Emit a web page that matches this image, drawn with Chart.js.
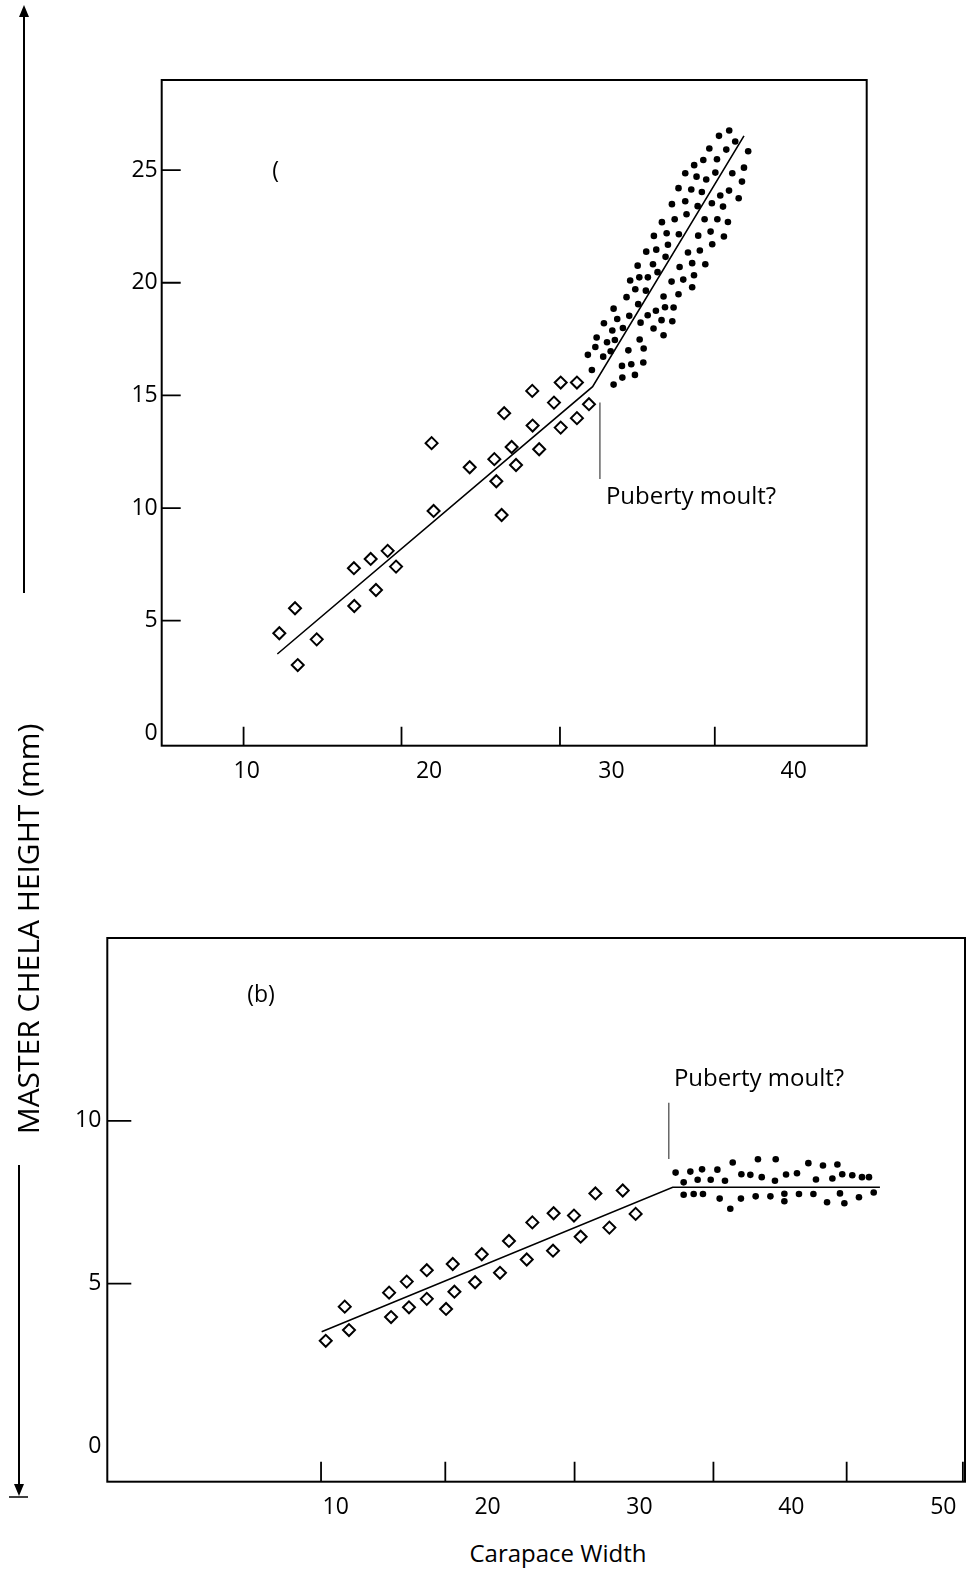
<!DOCTYPE html>
<html>
<head>
<meta charset="utf-8">
<script src="https://cdn.jsdelivr.net/npm/chart.js@4.4.1/dist/chart.umd.min.js"></script>
<style>
  body { margin:0; background:#fff; width:968px; height:1570px; position:relative; overflow:hidden; font-family:'Open Sans', sans-serif; color:#000; }
  #chartA { position:absolute; left:100px; top:60px; }
  #chartB { position:absolute; left:50px; top:920px; }
  #yTitle { position:absolute; left:27px; top:929px; transform:translate(-50%,-50%) rotate(-90deg); white-space:nowrap; font-size:30px; }
  #xTitle { position:absolute; left:558px; top:1552px; transform:translate(-50%,-50%); white-space:nowrap; font-size:24px; }
  #arrows { position:absolute; left:0; top:0; }
</style>
</head>
<body>
<canvas id="chartA" width="800" height="740"></canvas>
<canvas id="chartB" width="918" height="600"></canvas>
<svg id="arrows" width="60" height="1570">
  <line x1="24" y1="593" x2="24" y2="14" stroke="#000" stroke-width="2"/>
  <polygon points="24,5 19,17 29,17" fill="#000"/>
  <line x1="19" y1="1165" x2="19" y2="1486" stroke="#000" stroke-width="2"/>
  <polygon points="19,1496 14,1484 24,1484" fill="#000"/>
  <line x1="9" y1="1497" x2="28" y2="1497" stroke="#000" stroke-width="1.5"/>
</svg>
<div id="yTitle">MASTER CHELA HEIGHT (mm)</div>
<div id="xTitle">Carapace Width</div>
<script>
// ---- panel (a) ----
const juvAx = [11.79,12.65,12.80,13.84,15.88,15.90,16.80,17.09,17.73,18.19,20.14,20.25,22.23,23.58,23.69,23.98,24.12,24.53,24.77,25.66,25.68,26.04,26.85,27.22,27.22,28.11,28.11,28.77];
const juvAy = [4.44,5.55,3.03,4.17,7.33,5.65,7.74,6.36,8.10,7.40,12.88,9.87,11.81,12.17,11.19,9.69,14.21,12.71,11.91,15.20,13.66,12.61,14.68,15.57,13.57,15.57,13.99,14.61];
const adultAx = [36.46,35.90,36.79,35.37,36.30,37.50,35.04,35.79,34.54,37.27,
  34.05,34.67,35.70,36.63,35.20,37.16,33.68,34.38,34.96,36.45,
  35.97,33.32,34.05,34.73,35.51,36.12,36.98,33.47,34.12,35.11,
  35.81,36.39,32.77,33.03,32.33,33.70,34.76,35.44,36.17,33.10,
  31.91,32.46,34.20,34.85,35.53,32.97,32.28,31.44,33.74,34.43,
  35.15,32.53,31.03,31.53,32.00,33.30,33.94,34.53,31.31,31.89,
  33.68,34.43,30.83,31.47,32.86,30.12,30.32,29.59,30.98,31.60,
  31.99,32.44,32.94,33.41,33.34,32.75,30.05,30.63,29.19,29.76,
  30.19,32.31,32.86,31.55,29.12,29.55,29.96,28.71,30.93,31.77,
  28.93,30.58,31.09,31.75,30.60,31.29,30.12];
const adultAy = [26.76,26.52,26.27,25.96,25.91,25.84,25.45,25.48,25.22,25.11,
  24.86,24.71,24.89,24.86,24.58,24.49,24.20,24.14,24.03,24.09,
  23.87,23.49,23.62,23.40,23.53,23.38,23.75,22.82,23.04,22.82,
  22.82,22.70,22.69,22.20,22.08,22.15,22.09,22.27,22.05,21.69,
  21.38,21.47,21.34,21.43,21.71,21.15,20.82,20.76,20.70,20.87,
  20.82,20.47,20.10,20.24,20.24,20.05,20.14,20.33,19.71,19.65,
  19.49,19.80,19.36,19.05,19.39,18.85,18.39,18.20,18.53,18.23,
  18.56,18.76,18.91,18.90,18.29,18.34,17.88,17.99,17.57,17.36,
  17.46,17.97,17.67,17.48,17.15,16.72,16.96,16.80,17.00,17.08,
  16.13,16.31,16.38,16.46,15.79,15.91,15.48];
const fitAx = [11.68, 28.97, 37.27];
const fitAy = [3.52, 15.39, 26.52];
const xLabelsA = [10, 20, 30, 40];
const yLabelsA = [0, 5, 10, 15, 20, 25];
const xMarksA = [9.83, 18.49, 27.18, 35.67];
const yMarksA = [5, 10, 15, 20, 25];

// ---- panel (b) ----
const juvBx = [9.35,10.60,10.88,13.52,13.65,14.68,14.83,16.00,16.00,17.27,17.71,17.82,19.18,19.62,20.82,21.41,22.58,22.95,24.31,24.35,25.69,26.13,27.10,28.02,28.90,29.75];
const juvBy = [3.24,4.29,3.57,4.72,3.97,5.06,4.27,5.41,4.53,4.22,5.60,4.75,5.04,5.90,5.33,6.31,5.74,6.88,6.01,7.16,7.09,6.44,7.77,6.72,7.86,7.14];
const adultBx = [32.38,32.91,33.35,33.83,34.12,34.69,35.13,35.63,36.14,36.71,37.30,37.80,38.05,38.92,38.97,39.65,40.37,41.12,41.62,42.08,42.70,43.03,43.35,44.01,44.65,45.11,
  32.91,33.57,34.18,35.28,35.98,36.68,37.65,38.62,39.54,39.54,40.50,41.45,42.35,43.20,43.49,44.45,45.42];
const adultBy = [8.41,8.11,8.44,8.19,8.51,8.19,8.50,8.16,8.72,8.36,8.34,8.82,8.27,8.16,8.82,8.35,8.39,8.70,8.20,8.63,8.23,8.66,8.36,8.33,8.27,8.27,
  7.73,7.75,7.75,7.61,7.30,7.61,7.68,7.68,7.76,7.53,7.75,7.75,7.50,7.77,7.47,7.65,7.80];
const fitBx = [9.08, 32.19, 45.83];
const fitBy = [3.52, 7.96, 7.96];
const xLabelsB = [10, 20, 30, 40, 50];
const yLabelsB = [0, 5, 10];
const xMarksB = [9.04, 17.22, 25.73, 34.87, 43.64, 51.29];
const yMarksB = [5, 10];

Chart.defaults.font.family = "'Open Sans', sans-serif";
Chart.defaults.color = '#000';

const pts = (xs, ys) => xs.map((v, i) => ({ x: v, y: ys[i] }));

// box, inward tick marks and notes
const framePlugin = {
  id: 'frame',
  afterDatasetsDraw(chart, args, o) {
    const { ctx, chartArea: a, scales: { x, y } } = chart;
    ctx.save();
    ctx.strokeStyle = '#000';
    ctx.lineWidth = 2;
    ctx.strokeRect(a.left, a.top, a.right - a.left, a.bottom - a.top);
    ctx.lineWidth = 1.8;
    ctx.beginPath();
    o.xMarks.forEach(v => {
      const px = x.getPixelForValue(v);
      ctx.moveTo(px, a.bottom);
      ctx.lineTo(px, a.bottom - o.xMarkLen);
    });
    o.yMarks.forEach(v => {
      const py = y.getPixelForValue(v);
      ctx.moveTo(a.left, py);
      ctx.lineTo(a.left + o.yMarkLen, py);
    });
    ctx.stroke();
    // leader line
    ctx.strokeStyle = '#666';
    ctx.lineWidth = 1.5;
    ctx.beginPath();
    ctx.moveTo(x.getPixelForValue(o.leader.x), y.getPixelForValue(o.leader.y1));
    ctx.lineTo(x.getPixelForValue(o.leader.x), y.getPixelForValue(o.leader.y2));
    ctx.stroke();
    ctx.fillStyle = '#000';
    ctx.textBaseline = 'middle';
    o.notes.forEach(n => {
      ctx.font = n.size + "px 'Open Sans', sans-serif";
      ctx.textAlign = n.align;
      ctx.fillText(n.text, x.getPixelForValue(n.x), y.getPixelForValue(n.y));
    });
    ctx.restore();
  }
};

function makePanel(id, d) {
  return new Chart(document.getElementById(id), {
    type: 'scatter',
    data: {
      datasets: [
        { type: 'line', data: pts(d.fitX, d.fitY), borderColor: '#000', borderWidth: 1.6,
          pointRadius: 0, fill: false, tension: 0, order: 3 },
        { data: pts(d.adultX, d.adultY), pointStyle: 'circle', pointRadius: 3.3,
          backgroundColor: '#000', borderWidth: 0, order: 2 },
        { data: pts(d.juvX, d.juvY), pointStyle: 'rectRot', pointRadius: 6,
          backgroundColor: '#fff', borderColor: '#000', borderWidth: 2, order: 1 }
      ]
    },
    options: {
      responsive: false,
      animation: false,
      layout: { padding: d.padding, autoPadding: false },
      plugins: {
        legend: { display: false },
        tooltip: { enabled: false },
        frame: d.frame
      },
      scales: {
        x: {
          type: 'linear', min: d.xMin, max: d.xMax,
          grid: { display: false, drawTicks: false },
          border: { display: false },
          ticks: { padding: 12, font: { size: 23 }, maxRotation: 0 },
          afterBuildTicks: s => { s.ticks = d.xLabels.map(v => ({ value: v })); },
          afterFit: s => { s.height = d.xAxisH; s.paddingLeft = 0; s.paddingRight = 0; }
        },
        y: {
          type: 'linear', min: d.yMin, max: d.yMax,
          grid: { display: false, drawTicks: false },
          border: { display: false },
          ticks: { padding: d.yPad, font: { size: 23 } },
          afterBuildTicks: s => { s.ticks = d.yLabels.map(v => ({ value: v })); },
          afterFit: s => { s.width = d.yAxisW; s.paddingTop = 0; s.paddingBottom = 0; }
        }
      }
    },
    plugins: [framePlugin]
  });
}

makePanel('chartA', {
  juvX: juvAx, juvY: juvAy, adultX: adultAx, adultY: adultAy, fitX: fitAx, fitY: fitAy,
  xLabels: xLabelsA, yLabels: yLabelsA,
  xMin: 5.34, xMax: 44.0, yMin: -0.55, yMax: 29.0,
  padding: { top: 20, right: 33.3, left: 0, bottom: 0 },
  xAxisH: 54.3, yAxisW: 61.7, yPad: 4,
  frame: {
    xMarks: xMarksA, yMarks: yMarksA, xMarkLen: 19, yMarkLen: 19,
    leader: { x: 29.37, y1: 14.68, y2: 11.29 },
    notes: [
      { text: '(', x: 11.59, y: 24.93, align: 'center', size: 23 },
      { text: 'Puberty moult?', x: 29.70, y: 10.49, align: 'left', size: 24 }
    ]
  }
});

makePanel('chartB', {
  juvX: juvBx, juvY: juvBy, adultX: adultBx, adultY: adultBy, fitX: fitBx, fitY: fitBy,
  xLabels: xLabelsB, yLabels: yLabelsB,
  xMin: -5.03, xMax: 51.43, yMin: -1.09, yMax: 15.62,
  padding: { top: 18, right: 3, left: 0, bottom: 0 },
  xAxisH: 38.3, yAxisW: 57.3, yPad: 6,
  frame: {
    xMarks: xMarksB, yMarks: yMarksB, xMarkLen: 20, yMarkLen: 24,
    leader: { x: 31.93, y1: 10.56, y2: 8.83 },
    notes: [
      { text: '(b)', x: 5.09, y: 13.84, align: 'center', size: 23 },
      { text: 'Puberty moult?', x: 32.27, y: 11.29, align: 'left', size: 24 }
    ]
  }
});
</script>
</body>
</html>
